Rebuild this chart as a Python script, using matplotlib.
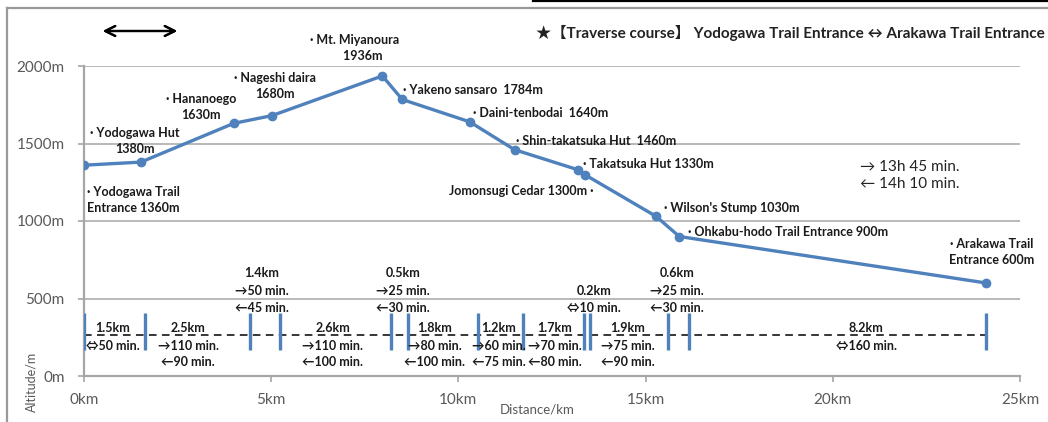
import matplotlib
matplotlib.use('Agg')
import matplotlib.pyplot as plt
from matplotlib.lines import Line2D

# Elevation profile of the traverse course
distance_km = [0, 1.52, 4.0, 5.02, 7.97, 8.5, 10.3, 11.5, 13.2, 13.37, 15.28, 15.9, 24.1]
altitude_m = [1360, 1380, 1630, 1680, 1936, 1784, 1640, 1460, 1330, 1300, 1030, 900, 600]

# segment dividers on the bottom strip
divider_km = [0, 1.62, 4.43, 5.23, 8.21, 8.66, 10.52, 11.72, 13.35, 13.52, 15.59, 16.17, 24.1]
segment_km = ['1.5', '2.5', '1.4', '2.6', '0.5', '1.8', '1.2', '1.7', '0.2', '1.9', '0.6', '8.2']
segment_fwd = [50, 110, 50, 110, 25, 80, 60, 70, 10, 75, 25, 160]
segment_back = [50, 90, 45, 100, 30, 100, 75, 80, 10, 90, 30, 160]

plt.rcParams['font.family'] = ['Lato', 'Noto Sans CJK JP', 'DejaVu Sans']

blue = '#4f81bd'
grey = '#a6a6a6'

fig = plt.figure(figsize=(10.48, 4.22), dpi=100)
ax = fig.add_axes([84 / 1048, 1 - 376 / 422, (1020 - 84) / 1048, (376 - 66) / 422])

ax.plot(distance_km, altitude_m, color=blue, lw=2.4, marker='o', ms=6, zorder=4)

ax.set_xlim(0, 25)
ax.set_ylim(0, 2000)
ax.set_xticks([0, 5, 10, 15, 20, 25])
ax.set_xticklabels(['0km', '5km', '10km', '15km', '20km', '25km'])
ax.set_yticks([0, 500, 1000, 1500, 2000])
ax.set_yticklabels(['0m', '500m', '1000m', '1500m', '2000m'])
ax.tick_params(axis='both', colors=grey, labelcolor='#595959', labelsize=11, length=4, width=1.2)
ax.tick_params(axis='y', pad=10)
ax.tick_params(axis='x', pad=8)
ax.grid(axis='y', color=grey, lw=1.1)
ax.set_axisbelow(True)
for s in ['top', 'right']:
    ax.spines[s].set_visible(False)
for s in ['left', 'bottom']:
    ax.spines[s].set_color(grey)
    ax.spines[s].set_linewidth(1.6)

# bottom strip: dividers and dashed guide
ax.vlines(divider_km, 168, 406, color=blue, lw=2.4, zorder=3)
ax.plot([0, divider_km[-1]], [265, 265], color='black', lw=1.1, ls=(0, (5, 3.5)), zorder=2)

bold = dict(fontsize=9, fontweight='bold', color='#1a1a1a')
ls = 1.4

# point labels
ax.text(1.31, 1136, '· Yodogawa Trail\nEntrance 1360m', ha='center', va='center', multialignment='left', linespacing=ls, **bold)
ax.text(1.36, 1516, '· Yodogawa Hut\n1380m', ha='center', va='center', linespacing=ls, **bold)
ax.text(3.13, 1736, '· Hananoego\n1630m', ha='center', va='center', linespacing=ls, **bold)
ax.text(5.10, 1871, '· Nageshi daira\n1680m', ha='center', va='center', linespacing=ls, **bold)
ax.text(7.24, 2113, '· Mt. Miyanoura\n     1936m', ha='center', va='center', linespacing=ls, **bold)
ax.text(8.52, 1845, '· Yakeno sansaro  1784m', ha='left', va='center', **bold)
ax.text(10.39, 1697, '· Daini-tenbodai  1640m', ha='left', va='center', **bold)
ax.text(11.54, 1516, '· Shin-takatsuka Hut  1460m', ha='left', va='center', **bold)
ax.text(13.33, 1368, '· Takatsuka Hut 1330m', ha='left', va='center', **bold)
ax.text(13.6, 1194, 'Jomonsugi Cedar 1300m ·', ha='right', va='center', **bold)
ax.text(15.49, 1084, "· Wilson's Stump 1030m", ha='left', va='center', **bold)
ax.text(16.13, 929, '· Ohkabu-hodo Trail Entrance 900m', ha='left', va='center', **bold)
ax.text(24.23, 797, '· Arakawa Trail\nEntrance 600m', ha='center', va='center', multialignment='right', linespacing=ls, **bold)

ax.text(20.73, 1294, '→ 13h 45 min.\n← 14h 10 min.', ha='left', va='center', fontsize=11,
        color='#222222', linespacing=1.3)

# segment labels
rows = [665, 548, 439, 310, 194, 90]
seg_x = [0.77, 2.78, 4.75, 6.65, 8.52, 9.37, 11.08, 12.58, 13.62, 14.53, 15.84, 20.89]
seg_row = [3, 3, 0, 3, 0, 3, 3, 3, 1, 3, 0, 3]
for i in range(len(segment_km)):
    if segment_fwd[i] == segment_back[i]:
        lines = [segment_km[i] + 'km', '⇔%d min.' % segment_fwd[i]]
    else:
        lines = [segment_km[i] + 'km', '→%d min.' % segment_fwd[i], '←%d min.' % segment_back[i]]
    for j, t in enumerate(lines):
        ax.text(seg_x[i], rows[seg_row[i] + j], t, ha='center', va='center', zorder=5, **bold)

# axis titles
fig.text(31 / 1048, 1 - 382 / 422, 'Altitude/m', rotation=90, ha='center', va='center', fontsize=9, color='#595959')
fig.text(537 / 1048, 1 - 410 / 422, 'Distance/km', ha='center', va='center', fontsize=9.5, color='#595959')

# heading
fig.text(1045 / 1048, 1 - 33 / 422, '★【Traverse course】 Yodogawa Trail Entrance ↔ Arakawa Trail Entrance',
         ha='right', va='center', fontsize=11, fontweight='bold', color='#222222')
fig.add_artist(plt.annotate('', xy=(180 / 1048, 1 - 31 / 422), xytext=(100 / 1048, 1 - 31 / 422),
                            xycoords='figure fraction', textcoords='figure fraction',
                            arrowprops=dict(arrowstyle='<->', color='black', lw=1.6, mutation_scale=18)))

# outer frame
fig.add_artist(Line2D([7 / 1048, 7 / 1048], [0, 1 - 8 / 422], color='#999999', lw=1.6))
fig.add_artist(Line2D([7 / 1048, 1], [1 - 8 / 422, 1 - 8 / 422], color='#999999', lw=1.6))
fig.add_artist(Line2D([533 / 1048, 1], [1 - 1 / 422, 1 - 1 / 422], color='black', lw=1.6))

fig.savefig('out.png', dpi=100)
